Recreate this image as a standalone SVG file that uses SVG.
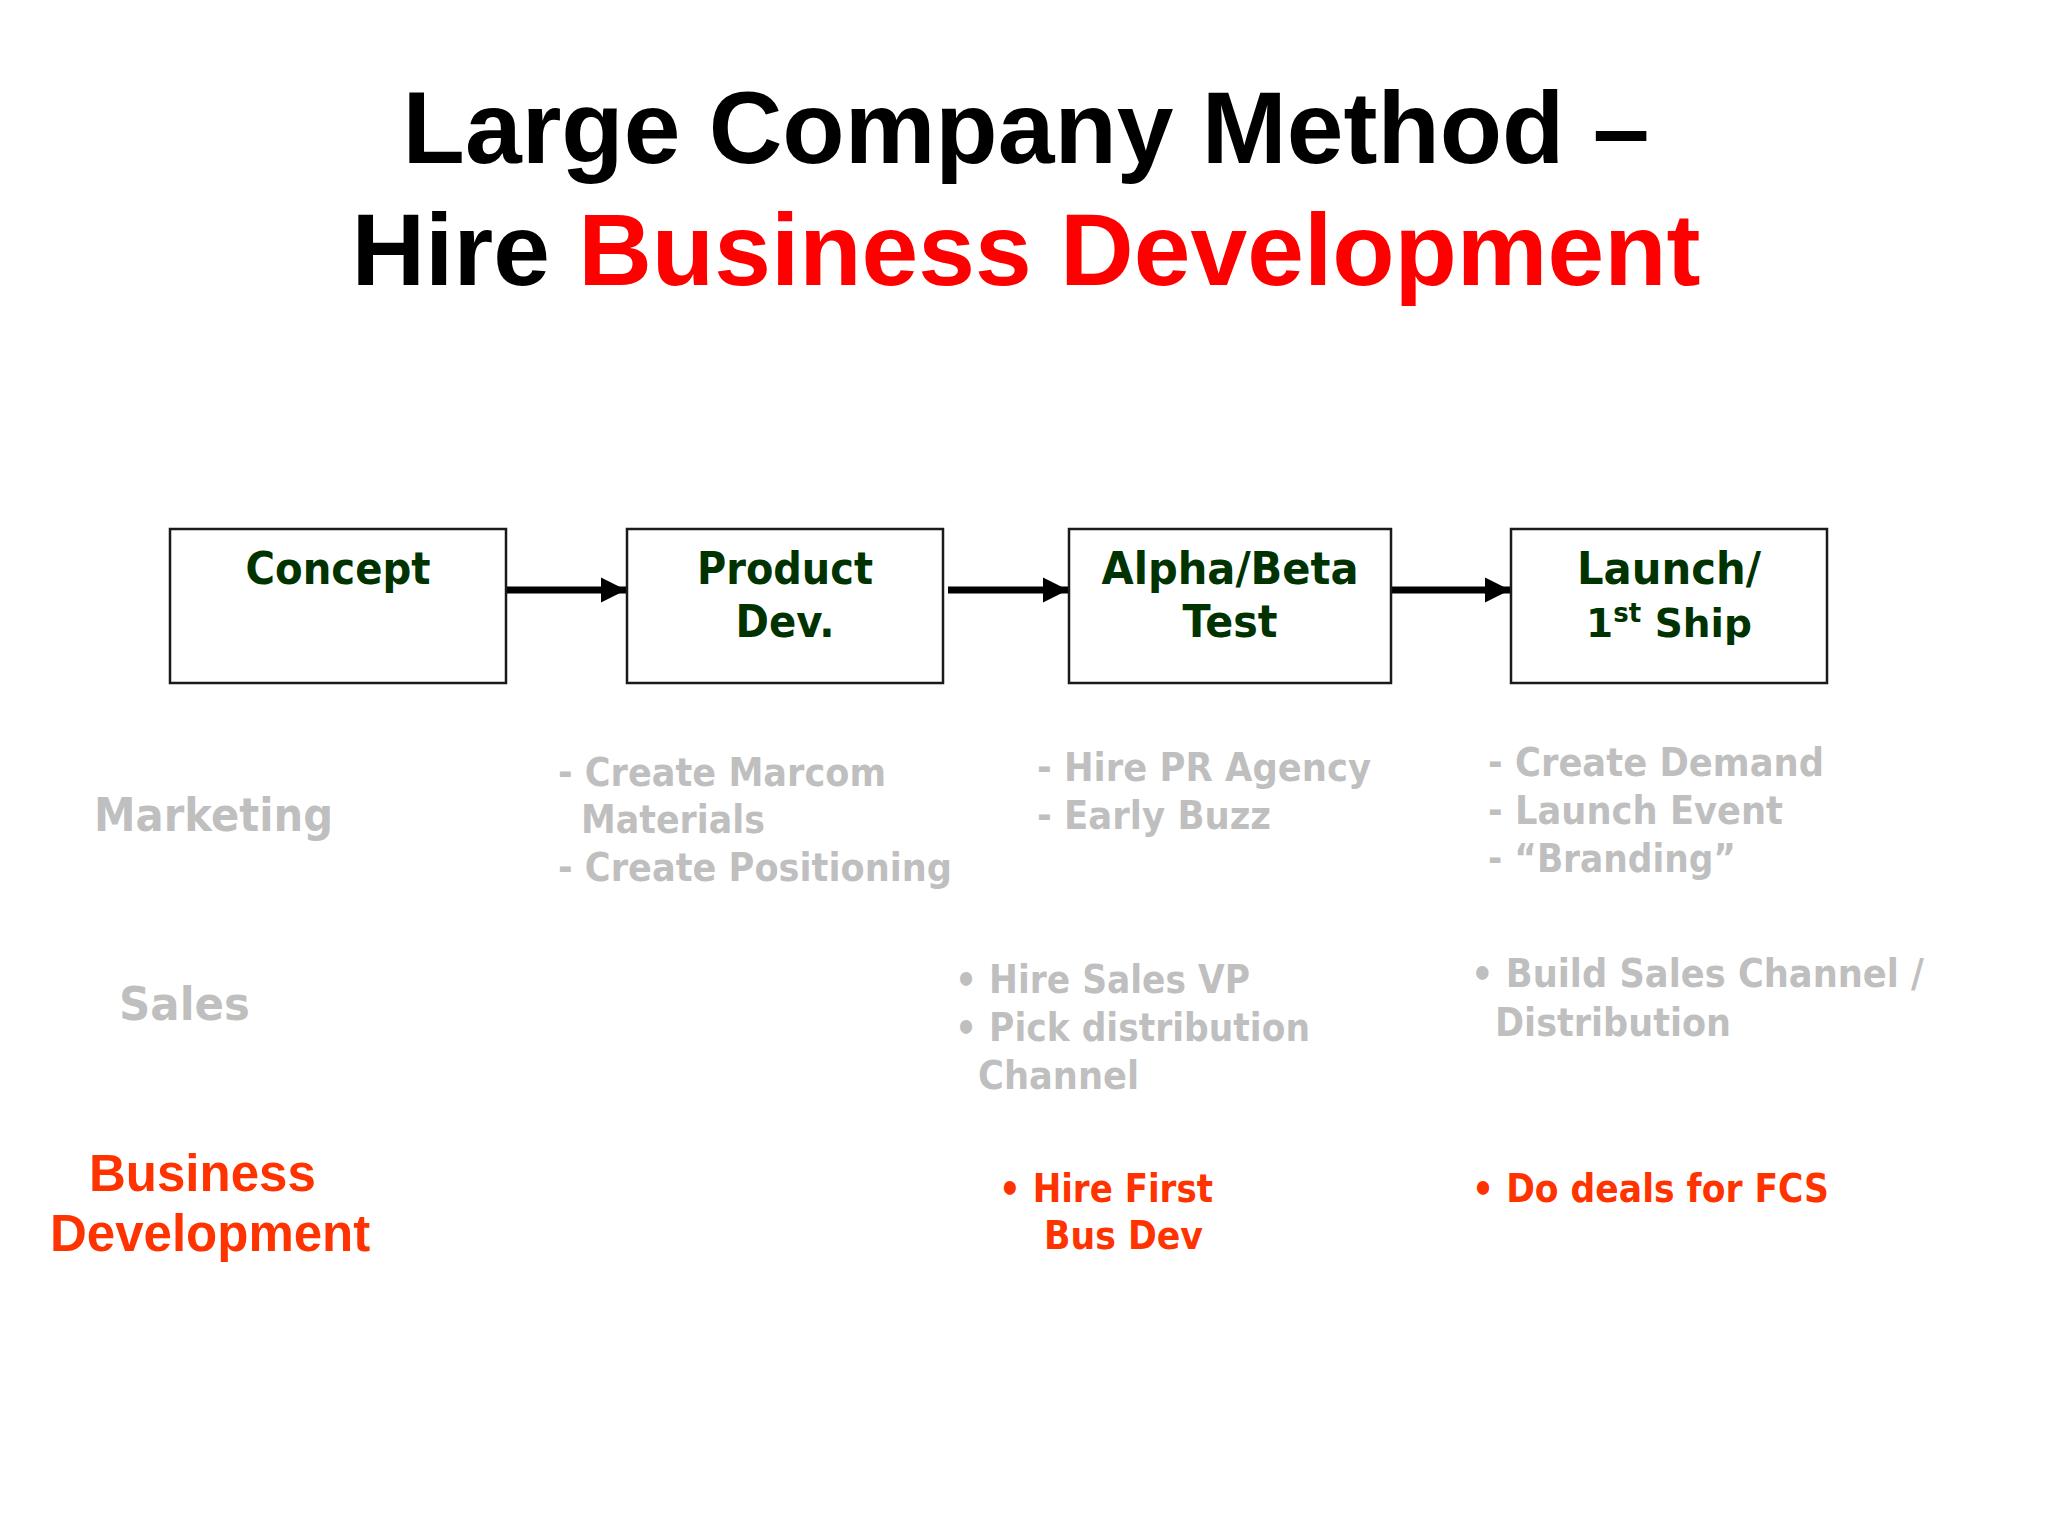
<svg xmlns="http://www.w3.org/2000/svg" width="2048" height="1536" viewBox="0 0 2048 1536">
<defs>
<style>
.title{font-family:"Liberation Sans",Arial,sans-serif;font-weight:bold;font-size:102px;fill:#000;text-anchor:middle}
.box{fill:#fff;stroke:#1a1a1a;stroke-width:2.5}
.bt{font-family:"DejaVu Sans",Verdana,sans-serif;font-weight:bold;font-size:45px;fill:#003300;text-anchor:middle}
.lane{font-family:"DejaVu Sans",Verdana,sans-serif;font-weight:bold;font-size:47px;fill:#bfbfbf}
.g{font-family:"DejaVu Sans",Verdana,sans-serif;font-weight:bold;font-size:39px;fill:#bfbfbf}
.o{font-family:"DejaVu Sans",Verdana,sans-serif;font-weight:bold;font-size:39px;fill:#ff3300}
.bd{font-family:"Liberation Sans",Arial,sans-serif;font-weight:bold;font-size:51px;fill:#ff3300}
.conn{stroke:#000;stroke-width:7;fill:none;marker-end:url(#ah)}
</style>
<marker id="ah" markerWidth="3.8" markerHeight="3.6" refX="3.6" refY="1.8" orient="auto" markerUnits="strokeWidth">
<path d="M0,0 L3.6,1.8 L0,3.6 z" fill="#000"/>
</marker>
</defs>
<rect width="2048" height="1536" fill="#fff"/>
<g id="title">
<text class="title" x="1026" y="163">Large Company Method –</text>
<text class="title" x="1026" y="285">Hire <tspan fill="#ff0000">Business Development</tspan></text>
</g>
<g id="connectors">
<line class="conn" x1="506" y1="590" x2="626" y2="590"/>
<line class="conn" x1="948" y1="590" x2="1068" y2="590"/>
<line class="conn" x1="1391" y1="590" x2="1510" y2="590"/>
</g>
<g id="concept">
<rect class="box" x="170" y="529" width="336" height="154"/>
<text class="bt" x="338" y="584" textLength="185" lengthAdjust="spacingAndGlyphs">Concept</text>
</g>
<g id="product-dev">
<rect class="box" x="627" y="529" width="316" height="154"/>
<text class="bt" x="785" y="584" textLength="176" lengthAdjust="spacingAndGlyphs">Product</text>
<text class="bt" x="785" y="637" textLength="99" lengthAdjust="spacingAndGlyphs">Dev.</text>
</g>
<g id="alpha-beta">
<rect class="box" x="1069" y="529" width="322" height="154"/>
<text class="bt" x="1230" y="584" textLength="257" lengthAdjust="spacingAndGlyphs">Alpha/Beta</text>
<text class="bt" x="1230" y="637" textLength="95" lengthAdjust="spacingAndGlyphs">Test</text>
</g>
<g id="launch">
<rect class="box" x="1511" y="529" width="316" height="154"/>
<text class="bt" x="1669" y="584" textLength="184" lengthAdjust="spacingAndGlyphs">Launch/</text>
<text class="bt" x="1669" y="637" style="font-size:39px">1<tspan style="font-size:26px" dy="-15">st</tspan><tspan dy="15"> Ship</tspan></text>
</g>
<g id="marketing">
<text class="lane" x="94" y="831" textLength="239" lengthAdjust="spacingAndGlyphs">Marketing</text>
<text class="g" x="558" y="786" textLength="328" lengthAdjust="spacingAndGlyphs">- Create Marcom</text>
<text class="g" x="581" y="833" textLength="184" lengthAdjust="spacingAndGlyphs">Materials</text>
<text class="g" x="558" y="881" textLength="394" lengthAdjust="spacingAndGlyphs">- Create Positioning</text>
<text class="g" x="1037" y="781" textLength="334" lengthAdjust="spacingAndGlyphs">- Hire PR Agency</text>
<text class="g" x="1037" y="829" textLength="234" lengthAdjust="spacingAndGlyphs">- Early Buzz</text>
<text class="g" x="1488" y="776" textLength="336" lengthAdjust="spacingAndGlyphs">- Create Demand</text>
<text class="g" x="1488" y="824" textLength="295" lengthAdjust="spacingAndGlyphs">- Launch Event</text>
<text class="g" x="1488" y="872" textLength="248" lengthAdjust="spacingAndGlyphs">- “Branding”</text>
</g>
<g id="sales">
<text class="lane" x="119" y="1020" textLength="131" lengthAdjust="spacingAndGlyphs">Sales</text>
<text class="g" x="955" y="993" textLength="295" lengthAdjust="spacingAndGlyphs">• Hire Sales VP</text>
<text class="g" x="955" y="1041" textLength="355" lengthAdjust="spacingAndGlyphs">• Pick distribution</text>
<text class="g" x="978" y="1089" textLength="161" lengthAdjust="spacingAndGlyphs">Channel</text>
<text class="g" x="1471" y="987" textLength="453" lengthAdjust="spacingAndGlyphs">• Build Sales Channel /</text>
<text class="g" x="1495" y="1036" textLength="236" lengthAdjust="spacingAndGlyphs">Distribution</text>
</g>
<g id="business-development">
<text class="bd" x="89" y="1191">Business</text>
<text class="bd" x="50" y="1251">Development</text>
<text class="o" x="999" y="1202" textLength="214" lengthAdjust="spacingAndGlyphs">• Hire First</text>
<text class="o" x="1044" y="1249" textLength="159" lengthAdjust="spacingAndGlyphs">Bus Dev</text>
<text class="o" x="1472" y="1202" textLength="357" lengthAdjust="spacingAndGlyphs">• Do deals for FCS</text>
</g>
</svg>
